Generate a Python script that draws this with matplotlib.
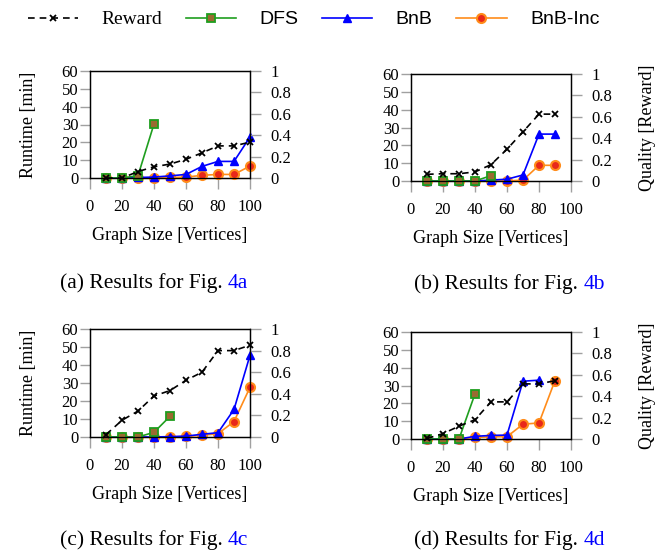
import matplotlib
matplotlib.use('Agg')
import matplotlib.pyplot as plt
from matplotlib.lines import Line2D
from matplotlib.text import Annotation

plt.rcParams['font.family'] = ['Liberation Serif', 'DejaVu Serif']

# ---- data (runtime in minutes, reward as quality 0..1) ----
sizes_a = [10, 20, 30, 40, 50, 60, 70, 80, 90, 100]
reward_a = [0.0, 0.0, 0.06, 0.105, 0.13, 0.175, 0.235, 0.30, 0.30, 0.335]
dfs_a = [0.0, 0.0, 1.3, 30.3]
bnb_a = [0.0, 0.0, 0.3, 0.5, 1.2, 2.0, 6.5, 9.3, 9.3, 23.0]
inc_a = [0.0, 0.0, 0.0, 0.2, 0.3, 0.5, 1.5, 2.0, 2.0, 6.7]

sizes_b = [10, 20, 30, 40, 50, 60, 70, 80, 90]
reward_b = [0.0625, 0.068, 0.068, 0.085, 0.153, 0.297, 0.46, 0.625, 0.625]
dfs_b = [0.0, 0.0, 0.0, 0.0, 3.0]
bnb_b = [0.0, 0.0, 0.0, 0.0, 0.5, 1.0, 3.4, 26.3, 26.3]
inc_b = [0.0, 0.0, 0.0, 0.0, 0.0, 0.0, 0.5, 8.8, 8.8]

sizes_c = [10, 20, 30, 40, 50, 60, 70, 80, 90, 100]
reward_c = [0.022, 0.155, 0.24, 0.38, 0.43, 0.525, 0.60, 0.80, 0.80, 0.85]
dfs_c = [0.0, 0.0, 0.0, 2.6, 11.5]
bnb_c = [0.0, 0.0, 0.0, 0.0, 0.2, 0.5, 1.5, 2.4, 15.3, 45.4]
inc_c = [0.0, 0.0, 0.0, 0.0, 0.0, 0.3, 1.0, 1.8, 8.6, 27.6]

sizes_d = [10, 20, 30, 40, 50, 60, 70, 80, 90]
reward_d = [0.005, 0.05, 0.12, 0.18, 0.347, 0.347, 0.515, 0.515, 0.545]
dfs_d = [0.0, 0.0, 0.0, 25.3]
bnb_d = [0.0, 0.0, 0.0, 1.5, 2.0, 2.2, 32.4, 33.0]
inc_d = [0.0, 0.0, 0.0, 0.9, 1.2, 1.3, 8.3, 9.0, 32.8]

runtime_ticks = [0, 10, 20, 30, 40, 50, 60]
quality_ticks = [0, 0.2, 0.4, 0.6, 0.8, 1]
quality_labels = ['0', '0.2', '0.4', '0.6', '0.8', '1']
size_ticks = [0, 20, 40, 60, 80, 100]

# ---- styles ----
GREEN = '#1f9e1f'
BROWN = '#9a6a30'
BLUE = '#0000ff'
ORANGE = '#ff8c1a'
RED = '#e8281a'
TICK_GRAY = '#a0a0a0'

reward_style = dict(color='black', ls=(0, (4, 3)), lw=1.2, marker='x', ms=4, mew=1.3)
dfs_style = dict(color=GREEN, lw=1.2, marker='s', ms=6, mfc=BROWN, mec=GREEN, mew=1.3)
bnb_style = dict(color=BLUE, lw=1.2, marker='^', ms=6, mfc=BLUE, mec=BLUE)
inc_style = dict(color=ORANGE, lw=1.2, marker='o', ms=6.5, mfc=RED, mec=ORANGE, mew=1.5)

W, H = 667, 554
fig = plt.figure(figsize=(W / 100, H / 100), dpi=100)


def panel(box, sizes, reward, dfs, bnb, inc, left_label, right_label):
    x0, y_top, y_bot = box
    ax = fig.add_axes([x0 / W, (H - y_bot) / H, 160 / W, (y_bot - y_top) / H])
    ax.plot(sizes[:len(inc)], inc, clip_on=False, zorder=3, **inc_style)
    ax.plot(sizes[:len(bnb)], bnb, clip_on=False, zorder=4, **bnb_style)
    ax.plot(sizes[:len(dfs)], dfs, clip_on=False, zorder=5, **dfs_style)
    ax.set_xlim(0, 100)
    ax.set_ylim(0, 60)
    ax.set_xticks(size_ticks)
    ax.set_yticks(runtime_ticks)
    ax.tick_params(axis='both', direction='out', color=TICK_GRAY, width=1,
                   labelsize=12)
    ax.tick_params(axis='y', length=7, pad=1.5)
    ax.tick_params(axis='x', length=8, pad=7)
    for sp in ax.spines.values():
        sp.set_linewidth(0.9)
    ax.set_xlabel('Graph Size [Vertices]', fontsize=13, labelpad=9)
    if left_label:
        ax.set_ylabel('Runtime [min]', fontsize=13, labelpad=18)

    # reward on a second y axis (0..1), drawn on top
    ax2 = ax.twinx()
    ax2.plot(sizes, reward, clip_on=False, zorder=6, **reward_style)
    ax2.set_ylim(0, 1)
    ax2.set_yticks(quality_ticks)
    ax2.set_yticklabels(quality_labels)
    ax2.tick_params(axis='y', direction='out', color=TICK_GRAY, width=1,
                    length=8, pad=7, labelsize=12)
    for sp in ax2.spines.values():
        sp.set_linewidth(0.9)
    if right_label:
        ax2.set_ylabel('Quality [Reward]', fontsize=13, labelpad=19)
    return ax


panel((90, 71, 178), sizes_a, reward_a, dfs_a, bnb_a, inc_a, True, False)
panel((411, 74, 181), sizes_b, reward_b, dfs_b, bnb_b, inc_b, False, True)
panel((90, 329, 437), sizes_c, reward_c, dfs_c, bnb_c, inc_c, True, False)
panel((411, 332, 439), sizes_d, reward_d, dfs_d, bnb_d, inc_d, False, True)

# ---- captions: black text followed by a blue figure reference ----
captions = [('a', 60, 283), ('b', 414, 284), ('c', 60, 540), ('d', 414, 540)]
for letter, cx, cy in captions:
    t = fig.text(cx / W, 1 - cy / H, f'({letter}) Results for Fig. ',
                 fontsize=15.5, ha='left', va='center')
    ref = Annotation(f'4{letter}', xy=(1, 0), xycoords=t, ha='left', va='bottom',
                     fontsize=15.5, color='blue', annotation_clip=False)
    fig.add_artist(ref)

# ---- legend ----
handles = [Line2D([], [], **reward_style),
           Line2D([], [], **dfs_style),
           Line2D([], [], **bnb_style),
           Line2D([], [], **inc_style)]
labels = ['Reward', 'DFS', 'BnB', 'BnB-Inc']
leg = fig.legend(handles, labels, loc='upper center', bbox_to_anchor=(0.47, 1.012),
                 ncol=4, frameon=False, fontsize=14, handlelength=2.6,
                 handletextpad=1.2, columnspacing=1.2)
for txt in leg.get_texts()[1:]:
    txt.set_family(['Liberation Sans', 'DejaVu Sans'])

fig.savefig('out.png', dpi=100)
